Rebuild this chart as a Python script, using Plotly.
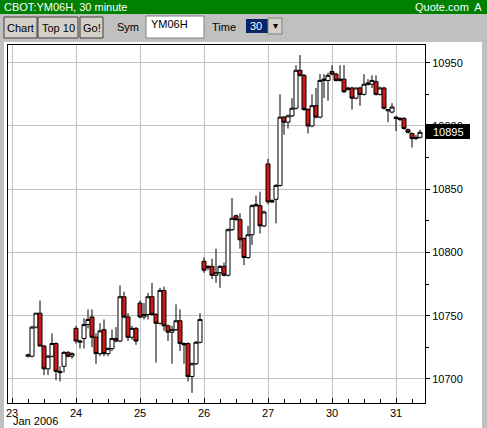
import plotly.graph_objects as go

# 30-minute bars, index 0 = start of 23 Jan
bar_index = list(range(4, 103))
opens = [10718, 10718, 10741, 10752, 10726, 10708, 10718, 10728, 10706, 10710, 10721, 10718,
         10740, 10729, 10732, 10743, 10749, 10733, 10720, 10739, 10720, 10724, 10732, 10730, 10765, 10749, 10733, 10740,
         10760, 10749, 10751, 10765, 10751, 10744, 10770, 10742, 10737, 10739, 10746, 10728, 10728, 10702, 10712, 10729,
         10793, 10789, 10789, 10782, 10784, 10789, 10782, 10818, 10829, 10826, 10811, 10796, 10814, 10837, 10837, 10821,
         10870, 10841, 10842, 10853, 10907, 10903, 10908, 10914, 10944, 10940, 10913, 10900, 10916, 10907, 10936, 10936,
         10943, 10941, 10936, 10937, 10930, 10930, 10922, 10930, 10925, 10934, 10933, 10935, 10925, 10930, 10912, 10911,
         10907, 10906, 10906, 10897, 10894, 10890, 10891]
highs = [10720, 10742, 10752, 10762, 10727, 10719, 10736, 10729, 10710, 10722, 10722, 10721,
         10742, 10731, 10748, 10755, 10755, 10736, 10744, 10747, 10725, 10739, 10741, 10774, 10769, 10752, 10742, 10741,
         10762, 10760, 10768, 10776, 10752, 10772, 10773, 10743, 10742, 10759, 10755, 10729, 10729, 10713, 10730, 10752,
         10796, 10790, 10795, 10803, 10790, 10792, 10819, 10843, 10830, 10831, 10812, 10821, 10838, 10845, 10848, 10833,
         10874, 10842, 10854, 10925, 10908, 10909, 10922, 10948, 10956, 10941, 10914, 10925, 10930, 10941, 10941, 10942,
         10948, 10942, 10948, 10948, 10931, 10931, 10930, 10931, 10941, 10937, 10940, 10940, 10931, 10931, 10913, 10918,
         10908, 10907, 10907, 10898, 10895, 10893, 10897]
lows = [10717, 10717, 10740, 10726, 10703, 10703, 10717, 10699, 10698, 10705, 10717, 10716,
        10728, 10724, 10724, 10740, 10725, 10712, 10718, 10718, 10718, 10722, 10729, 10729, 10748, 10730, 10731, 10727,
        10748, 10747, 10747, 10750, 10713, 10743, 10738, 10730, 10712, 10738, 10722, 10712, 10698, 10689, 10711, 10728,
        10784, 10786, 10779, 10776, 10772, 10781, 10781, 10817, 10825, 10803, 10790, 10795, 10806, 10836, 10815, 10820,
        10838, 10839, 10823, 10852, 10893, 10898, 10907, 10913, 10939, 10912, 10894, 10899, 10906, 10906, 10922, 10920,
        10940, 10935, 10935, 10926, 10928, 10913, 10921, 10916, 10924, 10932, 10930, 10924, 10924, 10913, 10903, 10910,
        10896, 10904, 10897, 10894, 10883, 10889, 10890]
closes = [10719, 10741, 10752, 10726, 10708, 10718, 10728, 10706, 10705, 10721, 10718, 10720,
          10730, 10730, 10743, 10747, 10733, 10720, 10738, 10720, 10724, 10732, 10730, 10765, 10749, 10733, 10740, 10730,
          10749, 10751, 10765, 10751, 10744, 10770, 10742, 10737, 10739, 10746, 10728, 10727, 10702, 10712, 10729, 10747,
          10786, 10788, 10782, 10784, 10789, 10782, 10818, 10827, 10826, 10810, 10796, 10814, 10837, 10838, 10821, 10832,
          10840, 10840, 10853, 10907, 10903, 10908, 10914, 10944, 10940, 10913, 10900, 10916, 10907, 10936, 10937, 10940,
          10941, 10936, 10937, 10927, 10929, 10922, 10930, 10925, 10933, 10933, 10936, 10925, 10930, 10914, 10913, 10915,
          10906, 10905, 10898, 10895, 10890, 10891, 10895]

day_ticks = [0, 16, 32, 48, 64, 80, 96]
day_labels = ["23", "24", "25", "26", "27", "30", "31"]
month_label = "Jan 2006"
y_ticks = [10700, 10750, 10800, 10850, 10900, 10950]
last_price = 10895

fig = go.Figure()
fig.add_trace(go.Candlestick(
    x=bar_index, open=opens, high=highs, low=lows, close=closes,
    increasing=dict(fillcolor="white", line=dict(color="black", width=1)),
    decreasing=dict(fillcolor="#d01818", line=dict(color="black", width=1)),
    whiskerwidth=0, hoverinfo="skip", showlegend=False,
))

W, H = 487, 428
L, R, T, B = 8, 62, 45, 25
pw, ph = W - L - R, H - T - B


def px(x):
    return (x - L) / pw


def py(y):
    return (H - B - y) / ph


shapes = [
    dict(type="rect", xref="paper", yref="paper", x0=px(0), x1=px(W), y0=py(14), y1=py(0),
         fillcolor="#008000", line=dict(width=0), layer="above"),
    dict(type="rect", xref="paper", yref="paper", x0=px(0), x1=px(W), y0=py(42), y1=py(14),
         fillcolor="#c0c0c0", line=dict(width=0), layer="above"),
    dict(type="rect", xref="paper", yref="paper", x0=px(146), x1=px(204), y0=py(38), y1=py(16),
         fillcolor="white", line=dict(color="#808080", width=1), layer="above"),
    dict(type="rect", xref="paper", yref="paper", x0=px(246), x1=px(268), y0=py(33), y1=py(19),
         fillcolor="#0a246a", line=dict(width=0), layer="above"),
    dict(type="rect", xref="paper", yref="paper", x0=px(268), x1=px(282), y0=py(34), y1=py(18),
         fillcolor="#d4d0c8", line=dict(color="#808080", width=1), layer="above"),
    dict(type="rect", xref="paper", yref="paper", x0=px(0), x1=px(4), y0=py(H), y1=py(42),
         fillcolor="#c0c0c0", line=dict(width=0), layer="above"),
    dict(type="rect", xref="paper", yref="paper", x0=px(482), x1=px(W), y0=py(H), y1=py(42),
         fillcolor="#c0c0c0", line=dict(width=0), layer="above"),
]
for x0, x1 in [(4, 37), (38, 78), (80, 103)]:
    shapes.append(dict(type="rect", xref="paper", yref="paper", x0=px(x0), x1=px(x1), y0=py(38), y1=py(17),
                       fillcolor="#d4d0c8", line=dict(color="#404040", width=1), layer="above"))
shapes.append(dict(type="rect", xref="paper", yref="paper", x0=px(426), x1=px(470), y0=py(139), y1=py(124),
                   fillcolor="black", line=dict(width=0), layer="above"))

f = dict(family="Liberation Sans, Arial", size=11, color="black")
ann = [
    dict(x=px(2), y=py(7), text="CBOT:YM06H, 30 minute", xanchor="left", font=dict(f, color="white")),
    dict(x=px(484), y=py(7), text="Quote.com  A", xanchor="right", font=dict(f, color="white")),
    dict(x=px(20.5), y=py(28), text="Chart", font=f),
    dict(x=px(58), y=py(28), text="Top 10", font=f),
    dict(x=px(91.5), y=py(28), text="Go!", font=f),
    dict(x=px(128), y=py(27), text="Sym", font=f),
    dict(x=px(149), y=py(24), text="YM06H", xanchor="left", font=f),
    dict(x=px(224), y=py(27), text="Time", font=f),
    dict(x=px(256), y=py(26), text="30", font=dict(f, color="white")),
    dict(x=px(275), y=py(26), text="▾", font=dict(f, size=10)),
    dict(x=px(448), y=py(131.5), text=str(last_price), font=dict(f, color="white")),
    dict(x=px(11), y=py(421), text=month_label, xanchor="left", font=f),
]
for a in ann:
    a.update(xref="paper", yref="paper", showarrow=False, yanchor="middle")
    a.setdefault("xanchor", "center")

fig.update_layout(
    width=W, height=H, margin=dict(l=L, r=R, t=T, b=B, autoexpand=False),
    paper_bgcolor="white", plot_bgcolor="white", font=f,
    boxgap=0, boxgroupgap=0,
    shapes=shapes, annotations=ann,
    xaxis=dict(range=[-1, 103.25], tickvals=day_ticks, ticktext=day_labels, rangeslider=dict(visible=False),
               automargin=False, tickangle=0, ticklabeloverflow="allow",
               showgrid=True, gridcolor="#c0c0c0", gridwidth=1, zeroline=False,
               showline=True, linecolor="black", linewidth=1, mirror=True,
               ticks="inside", ticklen=5, tickcolor="black",
               minor=dict(dtick=4, ticks="inside", ticklen=4, tickcolor="black"),
               fixedrange=True),
    yaxis=dict(range=[10681, 10964], side="right", tickvals=y_ticks, tickformat="d", automargin=False,
               showgrid=True, gridcolor="#c0c0c0", gridwidth=1, zeroline=False,
               showline=True, linecolor="black", linewidth=1, mirror=True,
               ticks="outside", ticklen=4, tickcolor="black",
               minor=dict(tickvals=[10675, 10725, 10775, 10825, 10875, 10925], ticks="outside",
                          ticklen=3, tickcolor="black"),
               fixedrange=True),
)

fig.write_html("out.html", config={"displayModeBar": False},
               post_script="document.body.style.margin='0px';")
